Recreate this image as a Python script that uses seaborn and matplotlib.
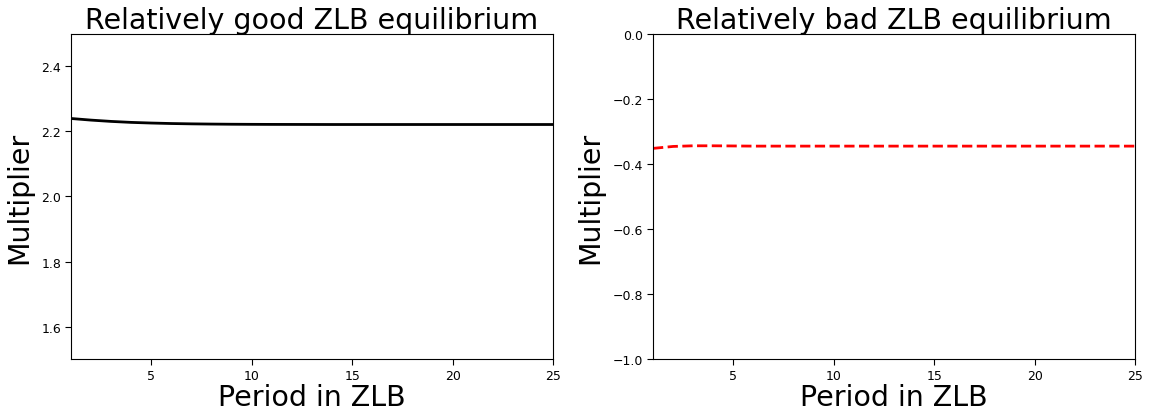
import matplotlib
matplotlib.use("Agg")
import matplotlib.pyplot as plt
import seaborn as sns
import pandas as pd

periods = list(range(1, 26))
good_multiplier = [2.240, 2.235, 2.231, 2.228, 2.226, 2.2245, 2.2235, 2.2228, 2.2223,
                   2.2220, 2.2218, 2.2217, 2.2216, 2.2215, 2.2215, 2.2215, 2.2215,
                   2.2215, 2.2215, 2.2215, 2.2215, 2.2215, 2.2215, 2.2215, 2.2215]
bad_multiplier = [-0.352, -0.346, -0.344, -0.344, -0.3445, -0.345, -0.345, -0.345,
                  -0.345, -0.345, -0.345, -0.345, -0.345, -0.345, -0.345, -0.345,
                  -0.345, -0.345, -0.345, -0.345, -0.345, -0.345, -0.345, -0.345, -0.345]

df = pd.DataFrame({"period": periods, "good": good_multiplier, "bad": bad_multiplier})

sns.set_style("ticks")
plt.rcParams["font.family"] = ["DejaVu Sans"]
for key in ["text.color", "axes.labelcolor", "xtick.color", "ytick.color", "axes.edgecolor"]:
    plt.rcParams[key] = "black"

fig = plt.figure(figsize=(11.49, 4.14), dpi=100)
ax1 = fig.add_axes([0.0618, 0.1304, 0.4195, 0.7851])
ax2 = fig.add_axes([0.5683, 0.1304, 0.4195, 0.7851])

sns.lineplot(data=df, x="period", y="good", ax=ax1, color="black", linewidth=2)
sns.lineplot(data=df, x="period", y="bad", ax=ax2, color="red", linewidth=2, linestyle="--")

ax1.set_ylim(1.5, 2.5)
ax1.set_yticks([1.6, 1.8, 2.0, 2.2, 2.4])
ax2.set_ylim(-1.0, 0.0)
ax2.set_yticks([-1.0, -0.8, -0.6, -0.4, -0.2, 0.0])

titles = ["Relatively good ZLB equilibrium", "Relatively bad ZLB equilibrium"]
for ax, title in zip([ax1, ax2], titles):
    ax.set_xlim(1, 25)
    ax.set_xticks([5, 10, 15, 20, 25])
    ax.set_title(title, fontsize=20.5, pad=3)
    ax.set_xlabel("Period in ZLB", fontsize=20.5, labelpad=1)
    ax.set_ylabel("Multiplier", fontsize=20.5, labelpad=6)
    ax.tick_params(labelsize=9, direction="out", length=4, width=0.8, color="black", pad=3)
    for s in ax.spines.values():
        s.set_visible(True)
        s.set_color("black")
        s.set_linewidth(0.8)

fig.savefig("out.png", dpi=100)
